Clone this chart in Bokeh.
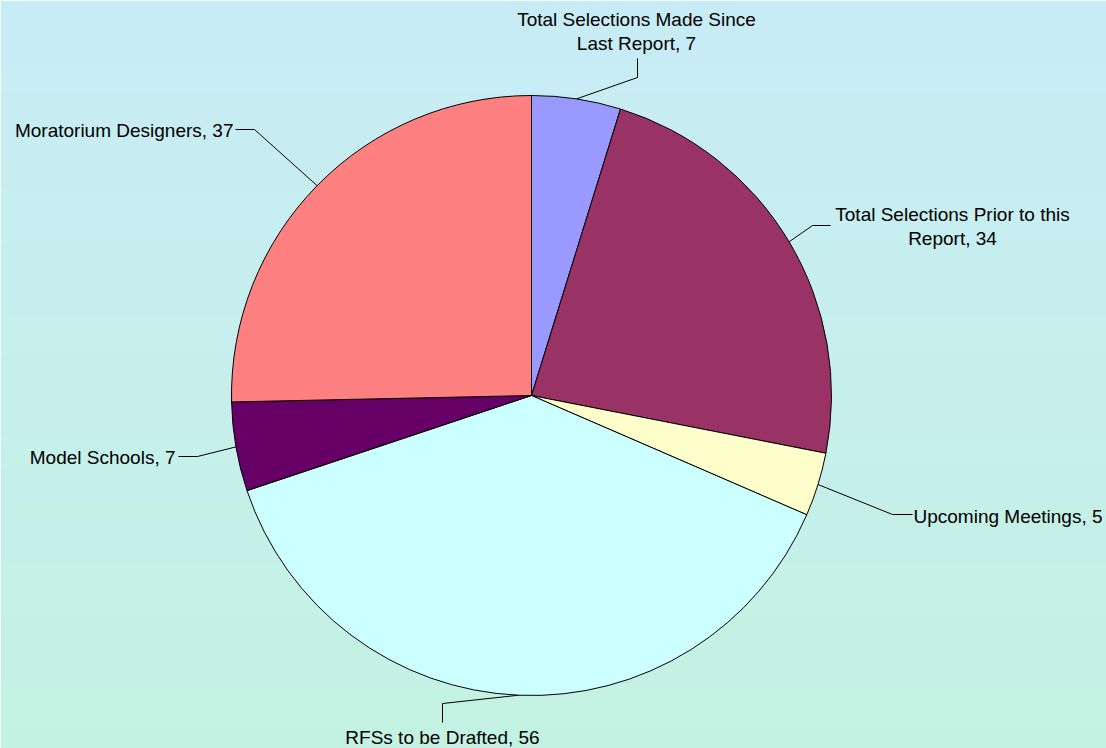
import numpy as np
from math import pi, sin, cos
from bokeh.plotting import figure
from bokeh.models import ColumnDataSource
from bokeh.core.properties import value
from bokeh.embed import file_html
from bokeh.resources import INLINE

# ---- data ----
categories = [
    "Total Selections Made Since\nLast Report",
    "Total Selections Prior to this\nReport",
    "Upcoming Meetings",
    "RFSs to be Drafted",
    "Model Schools",
    "Moratorium Designers",
]
values = [7, 34, 5, 56, 7, 37]
colors = ["#9999FF", "#993366", "#FFFFCC", "#CCFFFF", "#660066", "#FF8080"]

W, H = 1106, 748
FONT = "Liberation Sans"
FS = "19px"

def X(rx):
    return rx

def Y(ry):
    return H - ry

cx, cy, R = X(531), Y(395), 300

total = float(sum(values))
cum = np.concatenate([[0], np.cumsum(values)])
starts = pi / 2 - cum[:-1] / total * 2 * pi
ends = pi / 2 - cum[1:] / total * 2 * pi
mids = (starts + ends) / 2

p = figure(width=W, height=H, x_range=(0, W), y_range=(0, H),
           output_backend="svg", toolbar_location=None,
           x_axis_location=None, y_axis_location=None,
           min_border=0, outline_line_color=None)
p.grid.visible = False

# gradient background
top = np.array([0xC8, 0xEC, 0xF6], float)
mid = np.array([0xC6, 0xEF, 0xEC], float)
bot = np.array([0xC4, 0xF2, 0xE2], float)
N = 256
img = np.empty((N, 1), dtype=np.uint32)
view = img.view(dtype=np.uint8).reshape((N, 1, 4))
for i in range(N):
    t = i / (N - 1)  # 0 bottom -> 1 top
    if t < 0.5:
        c = bot + (mid - bot) * (t / 0.5)
    else:
        c = mid + (top - mid) * ((t - 0.5) / 0.5)
    view[i, 0, 0:3] = np.round(c).astype(np.uint8)
    view[i, 0, 3] = 255
p.image_rgba(image=[img], x=0, y=0, dw=W, dh=H)

src = ColumnDataSource(dict(start=starts, end=ends, color=colors))
p.wedge(x=cx, y=cy, radius=R, start_angle="start", end_angle="end",
        direction="clock", fill_color="color", line_color="black",
        line_width=1, source=src)

# label layout: (elbow, end of leader, text pos, align) in reference pixel coords
layout = [
    ((637, 77), (637, 58), (636, 31), "center"),
    ((812, 225), (830, 225), (952, 226), "center"),
    ((892, 514), (912, 514), (913, 516), "left"),
    ((442, 703), (442, 722), (442, 737), "center"),
    ((197, 456), (178, 456), (175, 457), "right"),
    ((254, 129), (235, 129), (233, 130), "right"),
]

for i, (cat, v) in enumerate(zip(categories, values)):
    ax = cx + R * cos(mids[i])
    ay = cy + R * sin(mids[i])
    (ex, ey), (fx, fy), (tx, ty), al = layout[i]
    p.line([ax, X(ex), X(fx)], [ay, Y(ey), Y(fy)], line_color="black", line_width=1)
    p.text(x=[X(tx)], y=[Y(ty)], text=[f"{cat}, {v}"], text_align=al,
           text_baseline="middle", text_font=value(FONT), text_font_size=FS,
           text_color="black", text_line_height=1.1)

open("out.html", "w").write(file_html(p, INLINE))
